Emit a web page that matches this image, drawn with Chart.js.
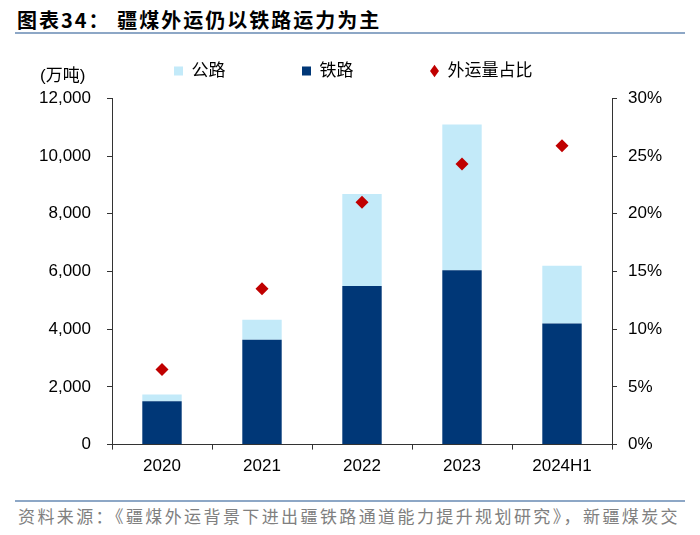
<!DOCTYPE html>
<html lang="zh">
<head>
    <meta charset="UTF-8">
    <title>疆煤外运仍以铁路运力为主</title>
    <script src="https://cdn.jsdelivr.net/npm/chart.js"></script>
    <style>
        body { margin: 0; background: #fff; }
        #wrap { position: relative; width: 700px; height: 535px; overflow: hidden; }
        #chartCanvas { position: absolute; left: 0; top: -14px; }
        .title { position: absolute; left: 17px; top: 10px; font: bold 20px/20px "Noto Sans CJK SC", sans-serif; letter-spacing: 2px; color: #000; white-space: nowrap; }
        .rule { position: absolute; left: 15px; width: 670px; height: 2px; background: #8da7c6; }
        .unit { position: absolute; left: 40px; top: 67px; font: 17px/18px "Liberation Sans", "Noto Sans CJK SC", sans-serif; color: #000; }
        .source { position: absolute; left: 18px; top: 507px; font: 17px/18px "Noto Sans CJK SC", sans-serif; letter-spacing: 2.4px; color: #808080; white-space: nowrap; }
    </style>
</head>
<body>
<div id="wrap">
    <div class="title">图表34： 疆煤外运仍以铁路运力为主</div>
    <div class="rule" style="top:32px"></div>
    <canvas id="chartCanvas" width="700" height="500"></canvas>
    <div class="unit">(万吨)</div>
    <div class="rule" style="top:500px"></div>
    <div class="source">资料来源：《疆煤外运背景下进出疆铁路通道能力提升规划研究》，新疆煤炭交</div>
</div>

<script>
    // data (万吨 / %)
    const years = ['2020', '2021', '2022', '2023', '2024H1'];
    const railway = [1500, 3630, 5500, 6040, 4200];
    const highway = [240, 700, 3180, 5050, 2000];
    const shareOut = [6.5, 13.5, 21.0, 24.3, 25.9];
    const legendOrder = ['公路', '铁路', '外运量占比'];

    const numFont = '"Liberation Sans", "Noto Sans CJK SC", sans-serif';
    const axisColor = '#333333';

    const ctx = document.getElementById('chartCanvas').getContext('2d');
    new Chart(ctx, {
        data: {
            labels: years,
            datasets: [
                { type: 'bar', label: '铁路', data: railway, backgroundColor: '#003777', order: 1, yAxisID: 'y' },
                { type: 'bar', label: '公路', data: highway, backgroundColor: '#c3eaf9', order: 1, yAxisID: 'y' },
                {
                    type: 'line', label: '外运量占比', data: shareOut, yAxisID: 'y1', order: 0,
                    showLine: false, pointStyle: 'rectRot', pointRadius: 6.5, pointHoverRadius: 6.5,
                    backgroundColor: '#c00000', borderColor: '#c00000', pointBorderWidth: 0
                }
            ]
        },
        options: {
            responsive: false,
            animation: false,
            layout: { padding: { left: 6.5, right: 0, top: 0, bottom: 2 } },
            plugins: {
                tooltip: { enabled: false },
                legend: {
                    position: 'top',
                    labels: {
                        usePointStyle: true,
                        pointStyleWidth: 9,
                        boxHeight: 9,
                        padding: 76.5,
                        color: '#000',
                        font: { size: 17, family: numFont },
                        generateLabels(chart) {
                            const items = Chart.defaults.plugins.legend.labels.generateLabels(chart);
                            items.forEach(it => {
                                const ds = chart.data.datasets[it.datasetIndex];
                                it.pointStyle = ds.type === 'line' ? 'rectRot' : 'rect';
                                it.fillStyle = ds.backgroundColor;
                                it.strokeStyle = ds.backgroundColor;
                                it.lineWidth = 0;
                            });
                            return items;
                        },
                        sort: (a, b) => legendOrder.indexOf(a.text) - legendOrder.indexOf(b.text)
                    }
                },
                // empty subtitle only used as a gap between legend and plot
                subtitle: { display: true, text: '', weight: 500, font: { size: 1 }, padding: { top: 0, bottom: 7.6 } }
            },
            scales: {
                x: {
                    stacked: true,
                    offset: true,
                    categoryPercentage: 1,
                    grid: { offset: true, drawOnChartArea: false, drawTicks: true, tickLength: 5, color: axisColor },
                    border: { color: axisColor, width: 1 },
                    ticks: { color: '#000', padding: 7, font: { size: 17, family: numFont }, maxRotation: 0 }
                },
                y: {
                    stacked: true,
                    position: 'left',
                    min: 0, max: 12000,
                    afterFit(scale) { scale.width = 105.5; },
                    grid: { drawOnChartArea: false, tickLength: 5, color: axisColor },
                    border: { color: axisColor, width: 1 },
                    ticks: {
                        stepSize: 2000, color: '#000', padding: 16, font: { size: 17, family: numFont },
                        callback: v => v.toLocaleString('en-US')
                    }
                },
                y1: {
                    position: 'right',
                    min: 0, max: 30,
                    afterFit(scale) { scale.width = 88; },
                    grid: { drawOnChartArea: false, tickLength: 5, color: axisColor },
                    border: { color: axisColor, width: 1 },
                    ticks: {
                        stepSize: 5, color: '#000', padding: 11, font: { size: 17, family: numFont },
                        callback: v => v + '%'
                    }
                }
            },
            datasets: { bar: { barPercentage: 0.394, categoryPercentage: 1 } }
        }
    });
</script>
</body>
</html>
